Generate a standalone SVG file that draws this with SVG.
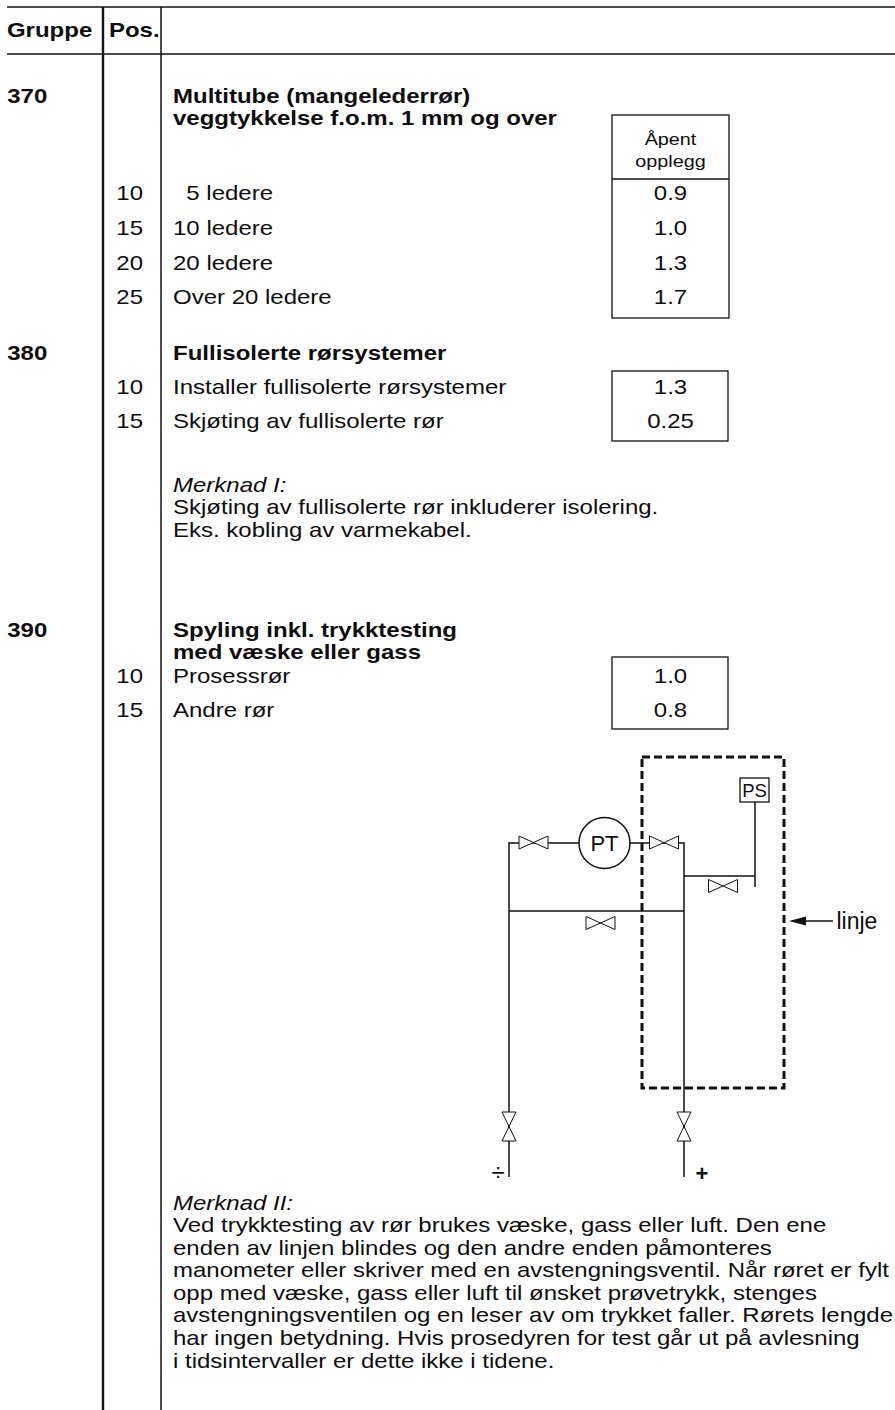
<svg xmlns="http://www.w3.org/2000/svg" width="895" height="1410" viewBox="0 0 895 1410">
<style>
.t{font-family:"Liberation Sans",Arial,Helvetica,sans-serif;font-size:20px;fill:#0d0d0d}
.b{font-weight:bold}
.i{font-style:italic}
.m{text-anchor:middle}
.e{text-anchor:end}
.s{font-size:16.5px}
.rule{stroke:#111;stroke-width:1.5;fill:none}
.box{stroke:#111;stroke-width:1.3;fill:none}
.pipe{stroke:#111;stroke-width:1.5;fill:none}
.valve{stroke:#111;stroke-width:1;fill:#fff}
</style>
<defs>
<path id="vh" d="M-14.5 -6.5 L-14.5 6.5 L14.5 -6.5 L14.5 6.5 Z"/>
<path id="vv" d="M-7 -14.5 L7 -14.5 L-7 14.5 L7 14.5 Z"/>
</defs>
<rect width="895" height="1410" fill="#fff"/>
<g id="table-grid">
<line class="rule" x1="7" y1="7" x2="895" y2="7"/>
<line class="rule" x1="7" y1="54" x2="895" y2="54"/>
<line x1="103" y1="7" x2="103" y2="1410" stroke="#111" stroke-width="2.4"/>
<line class="rule" x1="161" y1="7" x2="161" y2="1410"/>
</g>
<g id="header" transform="scale(1.2 1)">
<text class="t b" x="5.8" y="37">Gruppe</text>
<text class="t b" x="90.8" y="37">Pos.</text>
</g>
<g id="group-370">
<g transform="scale(1.2 1)">
<text class="t b" x="6" y="103">370</text>
<text class="t b" x="144.2" y="103">Multitube (mangelederrør)</text>
<text class="t b" x="144.2" y="125">veggtykkelse f.o.m. 1 mm og over</text>
<text class="t e" x="119.2" y="200">10</text>
<text class="t" x="155.3" y="200">5 ledere</text>
<text class="t e" x="119.2" y="235">15</text>
<text class="t" x="144.2" y="235">10 ledere</text>
<text class="t e" x="119.2" y="270">20</text>
<text class="t" x="144.2" y="270">20 ledere</text>
<text class="t e" x="119.2" y="304">25</text>
<text class="t" x="144.2" y="304">Over 20 ledere</text>
</g>
</g>
<g id="box-370">
<rect class="box" x="612" y="115" width="117" height="203"/>
<line class="box" x1="612" y1="179" x2="729" y2="179"/>
<g transform="scale(1.2 1)">
<text class="t s m" x="558.75" y="145">Åpent</text>
<text class="t s m" x="558.75" y="167">opplegg</text>
<text class="t m" x="558.75" y="200">0.9</text>
<text class="t m" x="558.75" y="235">1.0</text>
<text class="t m" x="558.75" y="270">1.3</text>
<text class="t m" x="558.75" y="304">1.7</text>
</g>
</g>
<g id="group-380">
<g transform="scale(1.2 1)">
<text class="t b" x="6" y="360">380</text>
<text class="t b" x="144.2" y="360">Fullisolerte rørsystemer</text>
<text class="t e" x="119.2" y="394">10</text>
<text class="t" x="144.2" y="394">Installer fullisolerte rørsystemer</text>
<text class="t e" x="119.2" y="428.5">15</text>
<text class="t" x="144.2" y="428.5">Skjøting av fullisolerte rør</text>
<text class="t i" x="144.2" y="492">Merknad I:</text>
<text class="t" x="144.2" y="514.5">Skjøting av fullisolerte rør inkluderer isolering.</text>
<text class="t" x="144.2" y="537">Eks. kobling av varmekabel.</text>
</g>
</g>
<g id="box-380">
<rect class="box" x="612" y="371" width="116" height="70"/>
<g transform="scale(1.2 1)">
<text class="t m" x="558.75" y="394">1.3</text>
<text class="t m" x="558.75" y="428.5">0.25</text>
</g>
</g>
<g id="group-390">
<g transform="scale(1.2 1)">
<text class="t b" x="6" y="637">390</text>
<text class="t b" x="144.2" y="637">Spyling inkl. trykktesting</text>
<text class="t b" x="144.2" y="659">med væske eller gass</text>
<text class="t e" x="119.2" y="683">10</text>
<text class="t" x="144.2" y="683">Prosessrør</text>
<text class="t e" x="119.2" y="717">15</text>
<text class="t" x="144.2" y="717">Andre rør</text>
</g>
</g>
<g id="box-390">
<rect class="box" x="612" y="657" width="116" height="72"/>
<g transform="scale(1.2 1)">
<text class="t m" x="558.75" y="683">1.0</text>
<text class="t m" x="558.75" y="717">0.8</text>
</g>
</g>
<g id="connectors">
<polyline class="pipe" points="509,1177 509,843 684,843 684,1177"/>
<line class="pipe" x1="509" y1="911" x2="684" y2="911"/>
<line class="pipe" x1="684" y1="876" x2="755" y2="876"/>
<line class="pipe" x1="755" y1="802" x2="755" y2="887"/>
<line class="pipe" x1="792" y1="921" x2="833" y2="921"/>
<polygon points="789,921 806,916.5 806,925.5" fill="#111"/>
</g>
<g id="valves">
<use href="#vh" class="valve" x="533.5" y="842.5"/>
<use href="#vh" class="valve" x="664" y="842.5"/>
<use href="#vh" class="valve" x="723" y="886"/>
<use href="#vh" class="valve" x="600.5" y="923"/>
<use href="#vv" class="valve" x="509" y="1126.5"/>
<use href="#vv" class="valve" x="684" y="1126.5"/>
</g>
<g id="pt">
<circle cx="604.5" cy="843" r="25.5" fill="#fff" stroke="#111" stroke-width="1.5"/>
<text class="t m" x="604.5" y="851" style="font-size:22px">PT</text>
</g>
<g id="ps">
<rect x="740" y="778" width="29" height="24" fill="#fff" stroke="#111" stroke-width="1.3"/>
<text class="t m" x="754.5" y="797" style="font-size:18.5px">PS</text>
</g>
<g id="line-boundary">
<rect x="642" y="757" width="142" height="331" fill="none" stroke="#111" stroke-width="3" stroke-dasharray="8 4"/>
</g>
<g id="labels">
<text class="t" x="836.5" y="928.5" style="font-size:23px">linje</text>
<text class="t m" x="498" y="1181" style="font-size:24px">÷</text>
<text class="t b m" x="702" y="1181" style="font-size:22px">+</text>
</g>
<g id="merknad-2" transform="scale(1.2 1)">
<text class="t i" x="144.2" y="1210">Merknad II:</text>
<text class="t" x="144.2" y="1232.5">Ved trykktesting av rør brukes væske, gass eller luft. Den ene</text>
<text class="t" x="144.2" y="1255">enden av linjen blindes og den andre enden påmonteres</text>
<text class="t" x="144.2" y="1277.5">manometer eller skriver med en avstengningsventil. Når røret er fylt</text>
<text class="t" x="144.2" y="1300">opp med væske, gass eller luft til ønsket prøvetrykk, stenges</text>
<text class="t" x="144.2" y="1322.5">avstengningsventilen og en leser av om trykket faller. Rørets lengde</text>
<text class="t" x="144.2" y="1345">har ingen betydning. Hvis prosedyren for test går ut på avlesning</text>
<text class="t" x="144.2" y="1367.5">i tidsintervaller er dette ikke i tidene.</text>
</g>
</svg>
